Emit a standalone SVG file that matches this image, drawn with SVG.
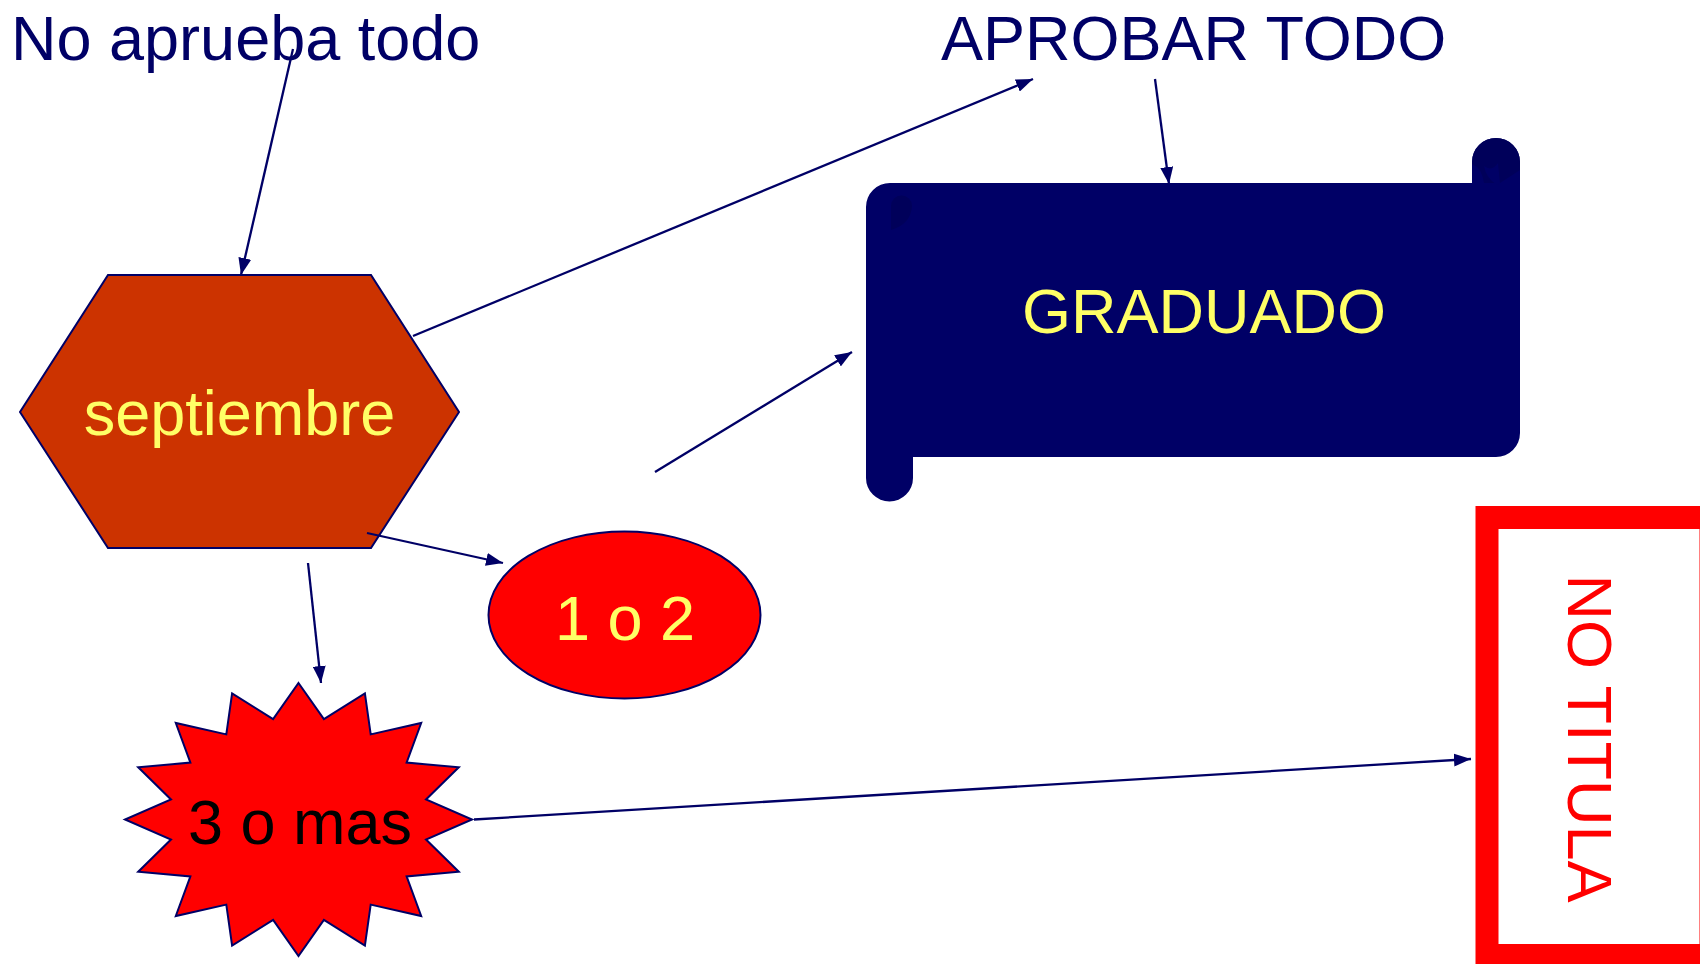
<svg xmlns="http://www.w3.org/2000/svg" width="1700" height="964" viewBox="0 0 1700 964">
<style>
text{font-family:"Liberation Sans",Arial,sans-serif;font-size:63px}
.navy{fill:#000066}
.yel{fill:#FFFF66}
.conn line{stroke:#000066;stroke-width:2.3;fill:none}
.outl{stroke:#000066;stroke-width:2}
</style>
<defs>
<marker id="ah" markerUnits="userSpaceOnUse" markerWidth="18" markerHeight="13" refX="17" refY="6.5" orient="auto">
<path d="M0,0 L17,6.5 L0,13 z" fill="#000066"/>
</marker>
</defs>
<rect width="1700" height="964" fill="#FFFFFF"/>

<g id="label-no-aprueba">
<text x="11" y="60" class="navy">No aprueba todo</text>
</g>
<g id="label-aprobar">
<text x="941" y="60" class="navy">APROBAR TODO</text>
</g>

<g id="node-graduado">
<path d="M890 183 L1472 183 L1472 162 A24 24 0 0 1 1520 162 L1520 433 A24 24 0 0 1 1496 457 L913 457 L913 478 A23.5 23.5 0 0 1 866 478 L866 207 A24 24 0 0 1 890 183 Z" fill="#000066"/>
<path d="M1472 162 A24 24 0 0 1 1520 162 L1520 170 L1500 183 L1484 183 Q1482 168 1472 164 Z" fill="#00005A"/>
<path d="M1484 166 Q1492 172 1498 163 L1500 183 L1497 185 Q1486 178 1484 166 Z" fill="#000066"/>
<path d="M891 230 L891 206 A10.5 10.5 0 0 1 912 206 Q911 224 891 230 Z" fill="#00005A"/>
<text x="1204" y="333" text-anchor="middle" class="yel">GRADUADO</text>
</g>

<g id="node-septiembre">
<polygon points="108,275 371,275 459,412 371,548 108,548 20,412" fill="#CC3300" class="outl"/>
<text x="239.5" y="435" text-anchor="middle" class="yel">septiembre</text>
</g>

<g id="node-1o2">
<ellipse cx="624.5" cy="615" rx="136" ry="83.5" fill="#FF0000" class="outl"/>
<text x="625" y="640" text-anchor="middle" class="yel">1 o 2</text>
</g>

<g id="node-3omas">
<polygon points="298.5,683 323.9,719.1 364.9,693.4 370.7,734.4 421.2,723 406.6,762.6 458.8,767.3 426,799.5 472,819.5 426,839.5 458.8,871.7 406.6,876.4 421.2,916 370.7,904.6 364.9,945.6 323.9,919.9 298.5,956 273.1,919.9 232.1,945.6 226.3,904.6 175.8,916 190.4,876.4 138.2,871.7 171,839.5 125,819.5 171,799.5 138.2,767.3 190.4,762.6 175.8,723 226.3,734.4 232.1,693.4 273.1,719.1" fill="#FF0000" class="outl"/>
<text x="300" y="844" text-anchor="middle" fill="#000000">3 o mas</text>
</g>

<g id="node-no-titula">
<rect x="1487" y="517.5" width="224" height="438" fill="#FFFFFF" stroke="#FF0000" stroke-width="23"/>
<text transform="translate(1568,738.5) rotate(90)" x="0" y="0" text-anchor="middle" fill="#FF0000">NO TITULA</text>
</g>

<g id="connectors" class="conn">
<line x1="293" y1="49" x2="241" y2="275" marker-end="url(#ah)"/>
<line x1="413" y1="336" x2="1033" y2="79" marker-end="url(#ah)"/>
<line x1="1155" y1="79" x2="1169" y2="184" marker-end="url(#ah)"/>
<line x1="655" y1="472" x2="852" y2="352" marker-end="url(#ah)"/>
<line x1="367" y1="533" x2="503" y2="563" marker-end="url(#ah)"/>
<line x1="308" y1="563" x2="321" y2="683" marker-end="url(#ah)"/>
<line x1="474" y1="819.5" x2="1471" y2="759" marker-end="url(#ah)"/>
</g>
</svg>
